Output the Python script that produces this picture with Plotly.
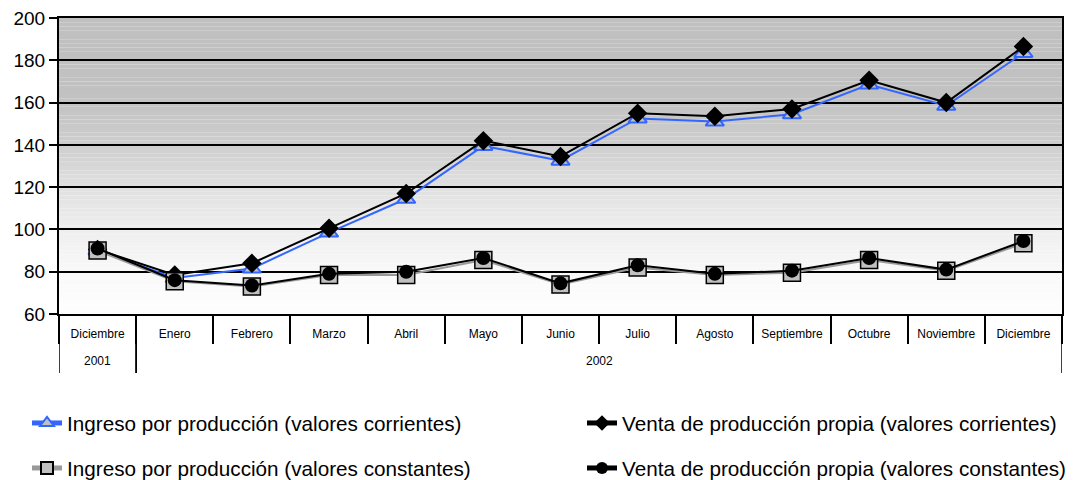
import plotly.graph_objects as go

# categories (two-level axis: year / month)
months = ["Diciembre", "Enero", "Febrero", "Marzo", "Abril", "Mayo", "Junio",
          "Julio", "Agosto", "Septiembre", "Octubre", "Noviembre", "Diciembre"]
year_labels = ["2001", "2002"]
year_spans = [(0, 0), (1, 12)]  # first and last month index of each year

# series values (index)
ingreso_corrientes = [90, 77, 81.5, 98.5, 114.5, 139.5, 132.5, 152.5, 151, 154.5, 168.5, 158.5, 183.5]
venta_corrientes = [90.5, 78.5, 84, 100.5, 117, 142, 134.5, 155, 153.5, 157, 170.5, 160, 186.5]
ingreso_constantes = [90, 75.5, 73, 78.5, 78.5, 85.5, 74, 82, 78.5, 79.5, 85.5, 80.5, 93.5]
venta_constantes = [91, 76, 73.5, 79, 80, 86.5, 74.5, 83, 79, 80.5, 86.5, 81, 94.5]

y_ticks = [60, 80, 100, 120, 140, 160, 180, 200]

FONT = "Arial, Liberation Sans, sans-serif"
# the page body has an 8px margin, so the figure is laid out 8px smaller
OFF = 8
W, H = 1089 - OFF, 480 - OFF
xpos = list(range(len(months)))

fig = go.Figure()

fig.add_trace(go.Scatter(
    x=xpos, y=ingreso_corrientes, mode="lines+markers",
    name="Ingreso por producción (valores corrientes)",
    line=dict(color="#3366ff", width=2),
    marker=dict(symbol="triangle-up", size=16, color="#c0c0c0",
                line=dict(color="#3366ff", width=2)),
    legend="legend",
))
fig.add_trace(go.Scatter(
    x=xpos, y=venta_corrientes, mode="lines+markers",
    name="Venta de producción propia (valores corrientes)",
    line=dict(color="black", width=2),
    marker=dict(symbol="diamond", size=15, color="black"),
    legend="legend2",
))
fig.add_trace(go.Scatter(
    x=xpos, y=ingreso_constantes, mode="lines+markers",
    name="Ingreso por producción (valores constantes)",
    line=dict(color="#999999", width=2),
    marker=dict(symbol="square", size=17, color="#c0c0c0",
                line=dict(color="black", width=1.5)),
    legend="legend3",
))
fig.add_trace(go.Scatter(
    x=xpos, y=venta_constantes, mode="lines+markers",
    name="Venta de producción propia (valores constantes)",
    line=dict(color="black", width=2),
    marker=dict(symbol="circle", size=14, color="black"),
    legend="legend4",
))

# gray-to-white gradient behind the plot area
stops = [(0.0, 192), (0.25, 193), (0.43, 206), (0.57, 224), (0.71, 238), (0.86, 249), (1.0, 254)]


def shade(t):
    for (t0, c0), (t1, c1) in zip(stops[:-1], stops[1:]):
        if t <= t1:
            return round(c0 + (c1 - c0) * (t - t0) / (t1 - t0))
    return stops[-1][1]


n_bands = 70
shapes = []
for i in range(n_bands):
    t = (i + 0.5) / n_bands
    g = shade(t)
    y1 = 200 - 140 * i / n_bands
    y0 = 200 - 140 * (i + 1) / n_bands
    shapes.append(dict(type="rect", xref="x domain", yref="y", x0=0, x1=1,
                       y0=y0, y1=y1, layer="below", line=dict(width=0),
                       fillcolor=f"rgb({g},{g},{g})"))

# year dividers and year labels under the month row
annotations = []
for label, (a, b) in zip(year_labels, year_spans):
    for xb in (a - 0.5, b + 0.5):
        shapes.append(dict(type="line", xref="x", yref="paper", x0=xb, x1=xb,
                           y0=0, y1=-0.199, line=dict(color="black", width=1.5)))
    annotations.append(dict(text=label, x=(a + b) / 2, xref="x", y=-0.159, yref="paper",
                            showarrow=False, yanchor="middle",
                            font=dict(size=12, family=FONT, color="black")))


def legend_box(xpx, ypx):
    # xpx / ypx: screen position of the legend text start / centre line
    x_fig = xpx - OFF - 40
    y_fig = ypx - OFF
    return dict(orientation="h", xref="container", yref="container",
                x=x_fig / W, y=(H - y_fig) / H, xanchor="left", yanchor="middle",
                itemsizing="constant",
                font=dict(size=20.7, family=FONT), bgcolor="rgba(0,0,0,0)")


fig.update_layout(
    width=W, height=H,
    margin=dict(l=59 - OFF, r=W - (1062 - OFF), t=18 - OFF, b=H - (314 - OFF)),
    paper_bgcolor="white",
    plot_bgcolor="rgba(0,0,0,0)",
    font=dict(family=FONT, color="black"),
    showlegend=True,
    shapes=shapes,
    annotations=annotations,
    legend=legend_box(67, 423),
    legend2=legend_box(622, 423),
    legend3=legend_box(67, 468),
    legend4=legend_box(622, 468),
)

fig.update_xaxes(
    range=[-0.5, 12.5], tickvals=xpos, ticktext=months, ticks="",
    ticklabelstandoff=8,
    minor=dict(ticks="outside", tick0=-0.5, dtick=1, ticklen=28,
               tickcolor="black", tickwidth=1.5, showgrid=False),
    showline=True, linecolor="black", linewidth=2, mirror=True,
    showgrid=False, zeroline=False, automargin=False,
    tickfont=dict(size=12, family=FONT),
)
fig.update_yaxes(
    range=[60, 200], tickvals=y_ticks, ticks="outside", ticklen=8,
    tickcolor="black", tickwidth=1.5, ticklabeloverflow="allow",
    showline=True, linecolor="black", linewidth=2, mirror=True,
    showgrid=True, gridcolor="black", gridwidth=1.5, zeroline=False,
    automargin=False, tickfont=dict(size=19, family=FONT),
)

fig.write_html("out.html")
